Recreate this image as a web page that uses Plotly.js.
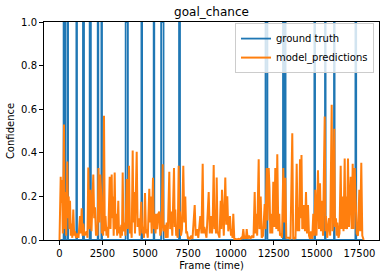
<!DOCTYPE html>
<html>
<head>
<meta charset="utf-8">
<script src="https://cdn.plot.ly/plotly-3.0.1.min.js"></script>
<style>
html,body{margin:0;padding:0;background:#fff;}
#chart{width:386px;height:278px;}
</style>
</head>
<body>
<div id="chart"></div>
<script>
// Ground-truth goal-chance intervals (frames where ground truth = 1)
const gtStart = [240, 460, 985, 1370, 1760, 2230, 2445, 3860, 4780, 5495, 5930, 6975, 12020, 13040, 13155, 14870, 15490, 16015, 17265];
const gtEnd   = [330, 500, 1020, 1430, 1830, 2265, 2480, 3990, 4820, 5530, 6070, 7030, 12130, 13075, 13190, 14910, 15525, 16050, 17310];
const lastFrame = 17750;

// Model predictions (frame, confidence)
const predFrames = [0,29,70,105,146,193,263,298,338,391,455,496,537,578,613,659,700,747,805,858,904,963,1050,1108,1196,1243,1295,1342,1388,1459,1587,1634,1680,1733,1809,1867,1972,2024,2071,2129,2170,2217,2275,2322,2380,2439,2468,2509,2549,2596,2643,2684,2742,2789,2841,2929,2975,3045,3080,3115,3162,3220,3267,3314,3366,3430,3471,3500,3559,3605,3646,3687,3734,3804,3850,3920,3979,4055,4113,4154,4212,4270,4311,4346,4405,4504,4557,4621,4685,4772,4831,4871,4930,4988,5046,5087,5151,5239,5291,5321,5379,5455,5513,5554,5601,5659,5706,5764,5822,5881,5951,6021,6067,6137,6196,6254,6312,6406,6458,6522,6581,6680,6721,6756,6808,6849,6896,6954,7007,7030,7088,7147,7222,7281,7339,7392,7438,7497,7555,7613,7689,7759,7888,7946,8039,8098,8214,8284,8354,8401,8448,8506,8576,8704,8769,8856,8897,8938,8996,9043,9089,9130,9171,9218,9264,9334,9404,9439,9480,9539,9585,9673,9731,9789,9848,9947,10005,10046,10093,10139,10198,10268,10355,10443,10530,10606,10665,10723,10781,10840,10880,10921,10980,11055,11143,11230,11318,11388,11435,11481,11534,11621,11668,11738,11796,11872,11971,12018,12088,12135,12205,12251,12298,12356,12415,12473,12532,12590,12648,12706,12765,12823,12864,12905,12981,13057,13115,13173,13232,13290,13389,13477,13581,13634,13710,13768,13838,13897,13943,13984,14031,14072,14118,14165,14206,14235,14264,14322,14381,14439,14497,14556,14614,14673,14743,14807,14865,14923,14993,15081,15139,15198,15256,15314,15373,15472,15518,15548,15618,15723,15793,15880,15927,15956,16032,16073,16131,16172,16207,16277,16335,16405,16452,16498,16569,16639,16679,16714,16773,16831,16889,16989,17047,17105,17164,17222,17257,17298,17339,17414,17491,17543,17607,17665,17747];
const predValues = [0,0.285,0.29,0.17,0.275,0.03,0.53,0.05,0.22,0.02,0.36,0.1,0.2,0.05,0.18,0.02,0.075,0.01,0.14,0.02,0.04,0.01,0.03,0.01,0.11,0.03,0.145,0.02,0.075,0.02,0.04,0.01,0.333,0.05,0.23,0.04,0.3,0.1,0.15,0.02,0.06,0.02,0.33,0.08,0.3,0.2,0.03,0.1,0.02,0.57,0.04,0.11,0.02,0.06,0.01,0.29,0.05,0.3,0.1,0.2,0.02,0.31,0.05,0.12,0.02,0.18,0.03,0.06,0.01,0.07,0.02,0.31,0.04,0.08,0.02,0.28,0.05,0.34,0.03,0.07,0.01,0.41,0.08,0.22,0.03,0.405,0.06,0.1,0.02,0.175,0.03,0.06,0.01,0.216,0.03,0.05,0.01,0.235,0.08,0.2,0.03,0.285,0.05,0.12,0.03,0.12,0.05,0.12,0.13,0.02,0.06,0.347,0.04,0.07,0.01,0.08,0.01,0.313,0.05,0.13,0.02,0.33,0.06,0.14,0.02,0.03,0.01,0.34,0.05,0.13,0.02,0.05,0.34,0.08,0.2,0.03,0.04,0.005,0.01,0.005,0.02,0.005,0.16,0.02,0.05,0.01,0.11,0.03,0.35,0.03,0.06,0.04,0.01,0.22,0.03,0.11,0.03,0.08,0.344,0.05,0.12,0.03,0.287,0.04,0.03,0.01,0.18,0.05,0.23,0.04,0.02,0.287,0.07,0.2,0.04,0.11,0.02,0.05,0.01,0.12,0.005,0.005,0.003,0.005,0.003,0.01,0.005,0.05,0.005,0.02,0.005,0.05,0.005,0.02,0.005,0.02,0.01,0.22,0.03,0.12,0.02,0.37,0.05,0.2,0.01,0.02,0.165,0.05,0.33,0.09,0.33,0.24,0.03,0.12,0.03,0.267,0.06,0.33,0.05,0.393,0.04,0.12,0.02,0.03,0.01,0.33,0.08,0.285,0.01,0.01,0.01,0.005,0.49,0.005,0.01,0.005,0.35,0.04,0.15,0.04,0.37,0.1,0.39,0.05,0.15,0.05,0.16,0.04,0.22,0.03,0.16,0.02,0.005,0.04,0.005,0.12,0.02,0.23,0.02,0.32,0.05,0.26,0.04,0.18,0.02,0.566,0.04,0.11,0.01,0.1,0.02,0.62,0.04,0.08,0.51,0.06,0.1,0.02,0.08,0.01,0.03,0.34,0.05,0.2,0.04,0.374,0.05,0.2,0.05,0.374,0.06,0.29,0.05,0.35,0.05,0.33,0.24,0.04,0.03,0.02,0.23,0.04,0.354,0.02,0];

const xTicks = [0, 2500, 5000, 7500, 10000, 12500, 15000, 17500];
const yTicks = [0.0, 0.2, 0.4, 0.6, 0.8, 1.0];

// Build the step-like ground-truth line from the intervals
const gtX = [0], gtY = [0];
for (let i = 0; i < gtStart.length; i++) {
  gtX.push(gtStart[i] - 1, gtStart[i], gtEnd[i], gtEnd[i] + 1);
  gtY.push(0, 1, 1, 0);
}
gtX.push(lastFrame); gtY.push(0);

const traces = [
  {x: gtX, y: gtY, type: 'scatter', mode: 'lines', name: 'ground truth',
   line: {color: '#1f77b4', width: 1.8}},
  {x: predFrames, y: predValues, type: 'scatter', mode: 'lines', name: 'model_predictions',
   line: {color: '#ff7f0e', width: 2}}
];

const axisCommon = {
  showline: true, mirror: true, linecolor: '#000', linewidth: 1,
  ticks: 'outside', ticklen: 4, tickwidth: 1, tickcolor: '#000',
  showgrid: false, zeroline: false,
  tickfont: {family: 'DejaVu Sans', size: 10, color: '#000'}
};

const layout = {
  width: 386, height: 278,
  margin: {l: 44, r: 7, t: 22, b: 38},
  paper_bgcolor: '#fff', plot_bgcolor: '#fff',
  font: {family: 'DejaVu Sans', size: 10, color: '#000'},
  title: {text: 'goal_chance', font: {family: 'DejaVu Sans', size: 12, color: '#000'},
          x: 0.5, xref: 'paper', xanchor: 'center', y: 0.958, yref: 'container', yanchor: 'middle'},
  xaxis: Object.assign({}, axisCommon, {
    range: [-904, 18640], tickvals: xTicks, ticktext: xTicks.map(String),
    title: {text: 'Frame (time)', font: {family: 'DejaVu Sans', size: 10, color: '#000'}, standoff: 3}
  }),
  yaxis: Object.assign({}, axisCommon, {
    range: [0, 1], tickvals: yTicks, ticktext: yTicks.map(v => v.toFixed(1)),
    title: {text: 'Confidence', font: {family: 'DejaVu Sans', size: 10, color: '#000'}, standoff: 4}
  }),
  showlegend: true,
  legend: {x: 0.985, xanchor: 'right', y: 0.995, yanchor: 'top',
           bgcolor: 'rgba(255,255,255,0.8)', bordercolor: '#cccccc', borderwidth: 1,
           font: {family: 'DejaVu Sans', size: 10, color: '#000'},
           itemwidth: 30, tracegroupgap: 0}
};

Plotly.newPlot('chart', traces, layout, {displayModeBar: false, staticPlot: true});
</script>
</body>
</html>
